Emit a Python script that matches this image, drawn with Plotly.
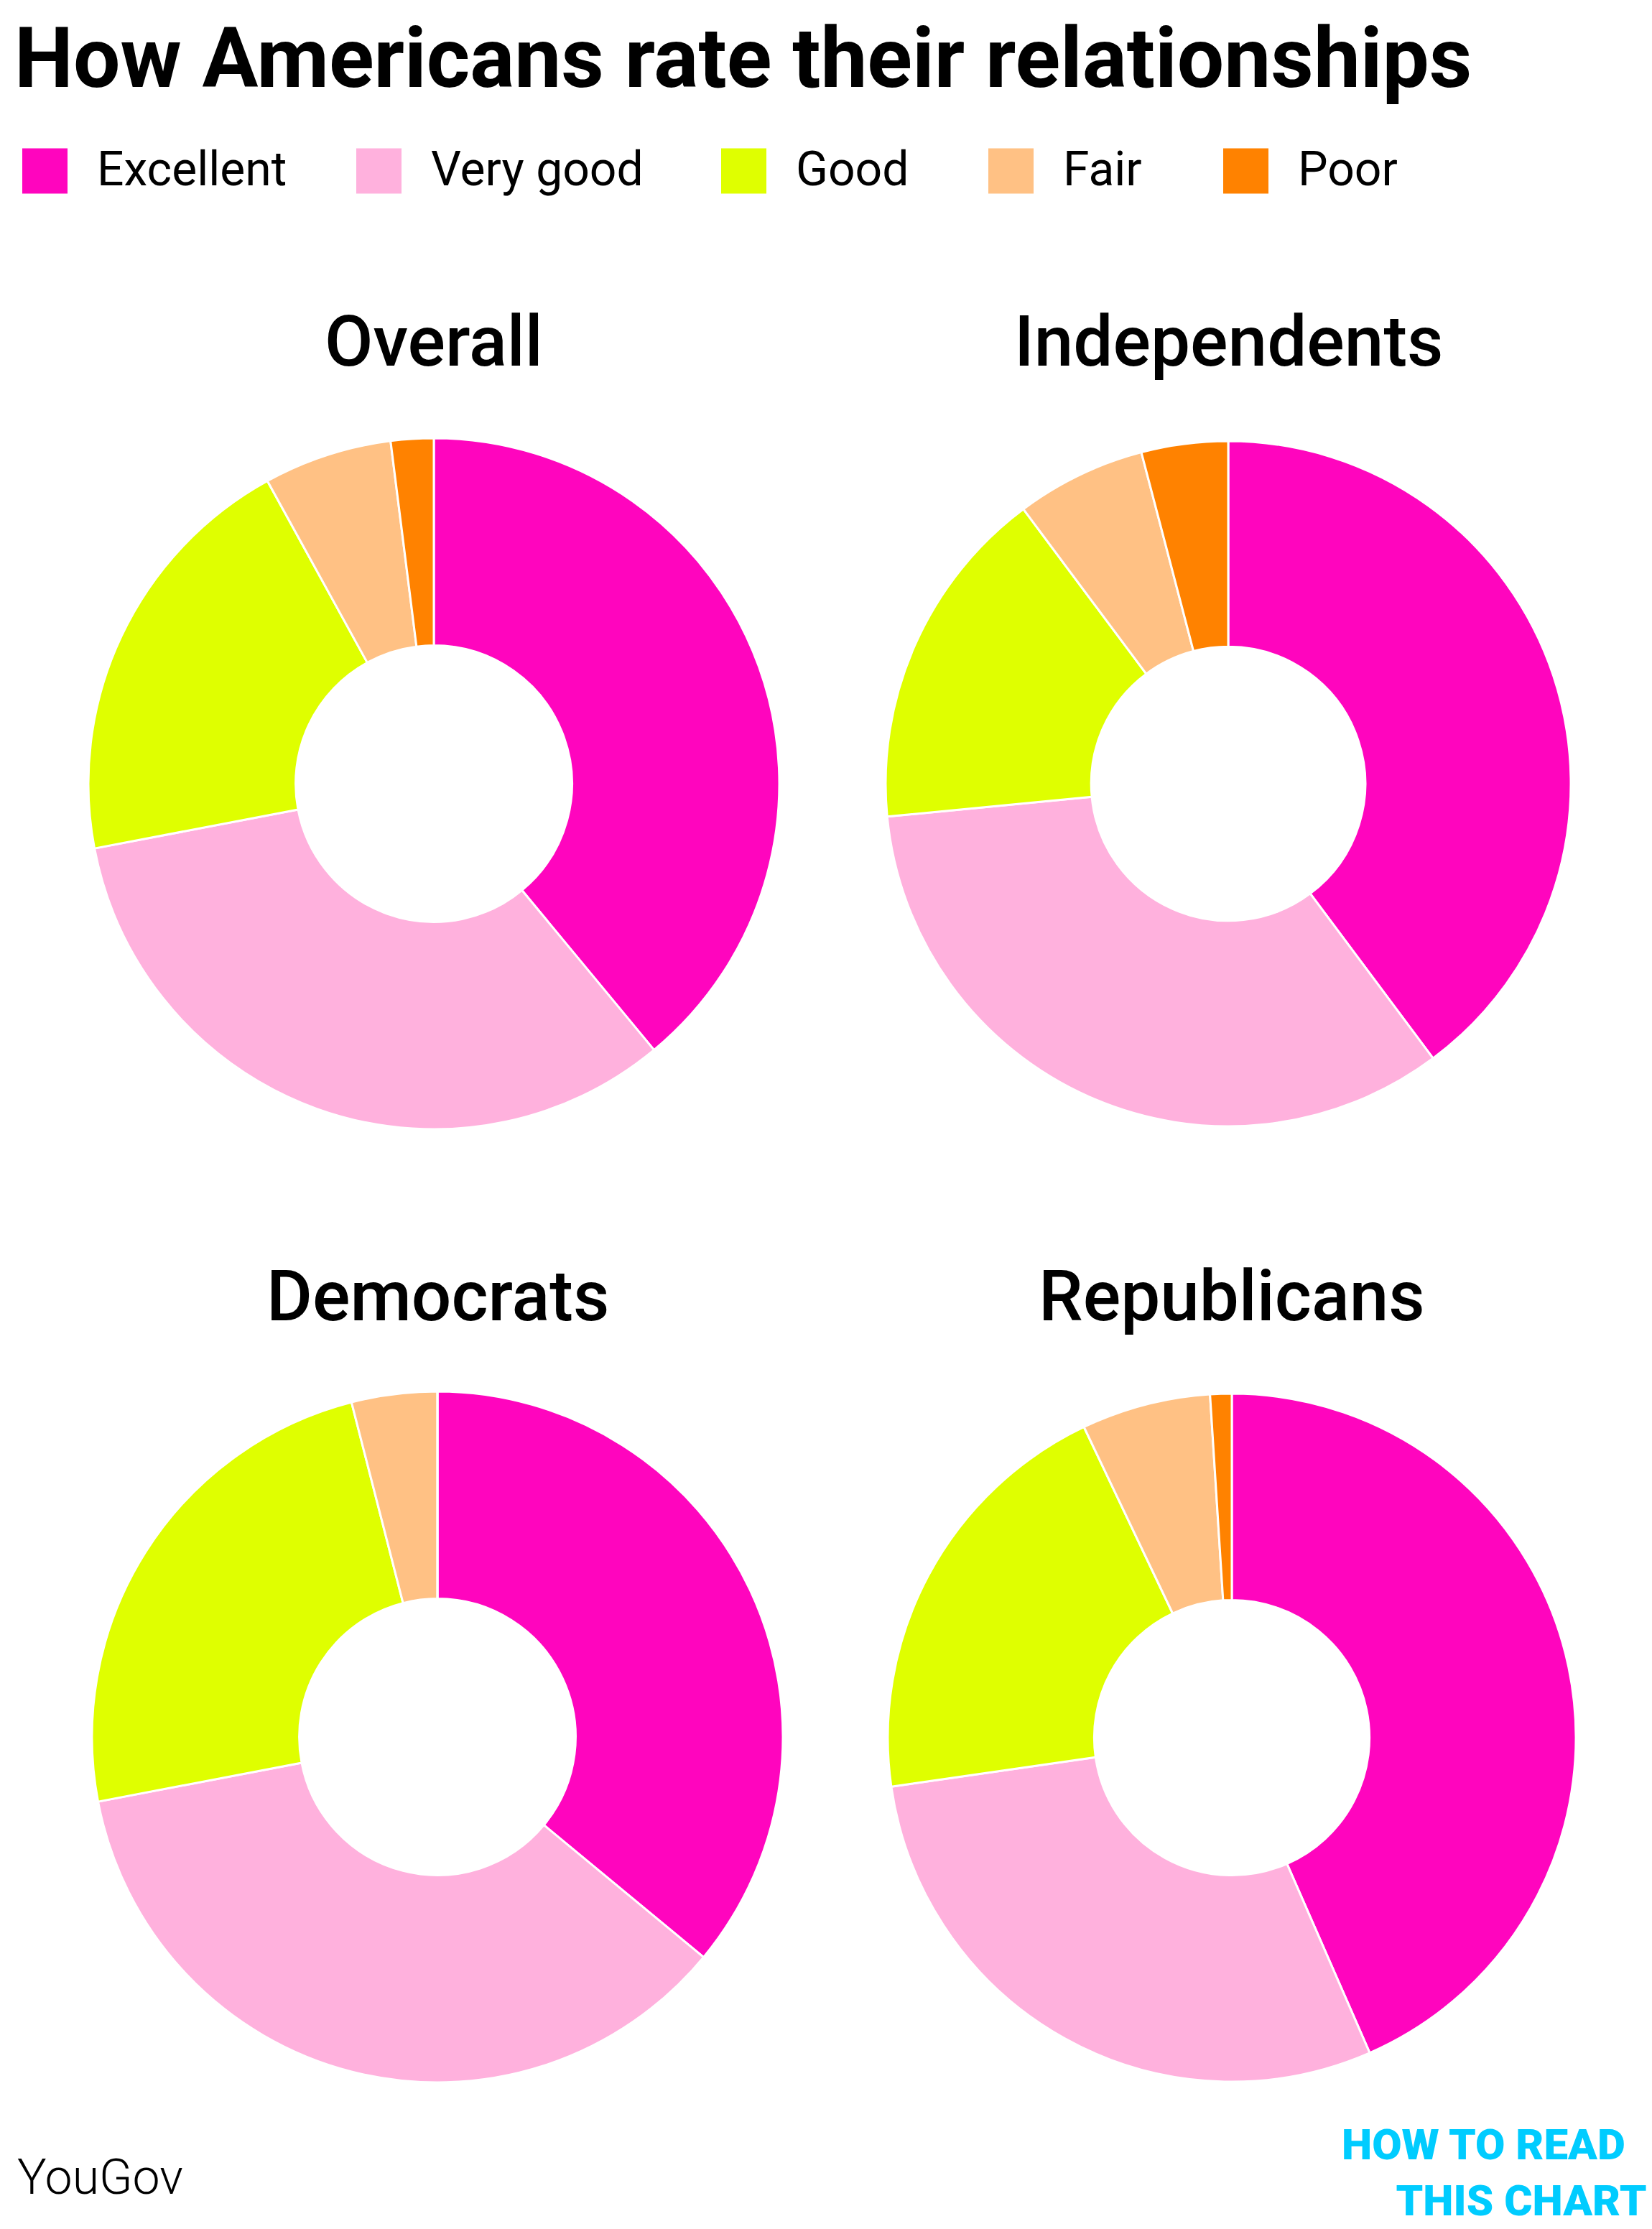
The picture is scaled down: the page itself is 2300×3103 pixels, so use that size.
import plotly.graph_objects as go

# 데이터 (YouGov 설문)
categories = ["Excellent", "Very good", "Good", "Fair", "Poor"]
colors = ["#FF05BE", "#FFB1DD", "#DFFF00", "#FFC184", "#FF8200"]

groups = ["Overall", "Independents", "Democrats", "Republicans"]
overall = [39, 33, 20, 6, 2]
independents = [39, 33, 16, 6, 4]
democrats = [36, 36, 24, 4, 0]
republicans = [43, 29, 20, 6, 1]
group_values = [overall, independents, democrats, republicans]

W, H = 2300, 3103
FONT = "Roboto"

# 도넛 위치: 중심 x, 중심 y, 반지름 (px)
pie_geom = [(596, 1083, 481), (1702, 1083, 477), (601, 2410, 481), (1707, 2411, 479)]
# 그룹 제목 높이 (px)
title_y = [467, 467, 1796, 1796]
# 범례 사각형 왼쪽 위치 (px)
legend_x = [23, 488, 996, 1368, 1695]
LEGEND_Y = 230
SQ = 63


def px_x(x):
    return x / W


def px_y(y):
    return 1 - y / H


fig = go.Figure()

for name, vals, (cx, cy, r) in zip(groups, group_values, pie_geom):
    fig.add_trace(go.Pie(
        labels=categories,
        values=vals,
        name=name,
        hole=0.4,
        sort=False,
        direction="clockwise",
        rotation=0,
        textinfo="none",
        hoverinfo="label+percent",
        marker=dict(colors=colors, line=dict(color="white", width=3)),
        domain=dict(x=[px_x(cx - r), px_x(cx + r)], y=[px_y(cy + r), px_y(cy - r)]),
        showlegend=False,
    ))

annotations = []
# 그룹 제목
for name, (cx, cy, r), ty in zip(groups, pie_geom, title_y):
    annotations.append(dict(
        text=name, x=px_x(cx), y=px_y(ty), xref="paper", yref="paper",
        xanchor="center", yanchor="middle", showarrow=False,
        font=dict(family=FONT, size=98, color="black", weight=500),
    ))

# 범례
shapes = []
for cat, col, lx in zip(categories, colors, legend_x):
    shapes.append(dict(
        type="rect", xref="paper", yref="paper",
        x0=px_x(lx), x1=px_x(lx + SQ),
        y0=px_y(LEGEND_Y + SQ / 2), y1=px_y(LEGEND_Y - SQ / 2),
        fillcolor=col, line=dict(width=0),
    ))
    annotations.append(dict(
        text=cat, x=px_x(lx + 102), y=px_y(LEGEND_Y - 3), xref="paper", yref="paper",
        xanchor="left", yanchor="middle", showarrow=False,
        font=dict(family=FONT, size=66, color="black"),
    ))

# 출처 / 로고
annotations.append(dict(
    text="YouGov", x=px_x(14), y=px_y(3023), xref="paper", yref="paper",
    xanchor="left", yanchor="middle", showarrow=False,
    font=dict(family=FONT, size=68, color="black", weight=300),
))
# 로고는 한 덩어리 텍스트로 (두 줄)
annotations.append(dict(
    text="HOW TO READ&nbsp;&nbsp;<br>THIS CHART", x=px_x(2286), y=px_y(3092),
    xref="paper", yref="paper", align="right",
    xanchor="right", yanchor="bottom", showarrow=False, borderpad=0,
    font=dict(family=FONT, size=60, color="#00CCFF", weight=900),
))

fig.update_layout(
    width=W,
    height=H,
    margin=dict(l=0, r=0, t=0, b=0),
    paper_bgcolor="white",
    plot_bgcolor="white",
    title=dict(
        text="<b>How Americans rate their relationships</b>",
        x=px_x(12), xref="container", xanchor="left",
        y=px_y(72), yref="container", yanchor="middle",
        font=dict(family=FONT, size=116, color="black"),
    ),
    annotations=annotations,
    shapes=shapes,
)

fig.write_html("out.html")
